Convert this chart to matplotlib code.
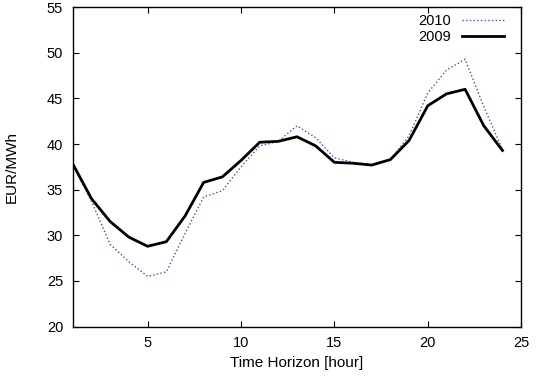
import numpy as np
import matplotlib
matplotlib.use('Agg')
import matplotlib.pyplot as plt

# Precio horario (EUR/MWh) por hora del día
hours = list(range(1, 25))
price_2010 = [37.8, 33.7, 29.0, 27.1, 25.5, 26.0, 30.2, 34.2, 34.9, 37.5, 39.8, 40.3,
              42.0, 40.7, 38.5, 38.0, 37.7, 38.3, 40.9, 45.6, 48.1, 49.3, 44.1, 39.4]
price_2009 = [37.8, 34.0, 31.5, 29.8, 28.8, 29.3, 32.1, 35.8, 36.4, 38.2, 40.2, 40.3,
              40.8, 39.8, 38.0, 37.9, 37.7, 38.3, 40.4, 44.2, 45.5, 46.0, 42.0, 39.3]

plt.rcParams['font.family'] = ['Liberation Sans', 'DejaVu Sans']
plt.rcParams['font.size'] = 10.5

fig = plt.figure(figsize=(5.44, 3.78), dpi=100)
ax = fig.add_axes([0.134, 0.136, 0.824, 0.845])

ax.plot(hours, price_2010, color='#3a55c0', linestyle=':', linewidth=1.0, label='2010')
ax.plot(hours, price_2009, color='black', linestyle='-', linewidth=2.0, label='2009')

ax.set_xlim(1, 25)
ax.set_ylim(20, 55)
ax.set_xticks([5, 10, 15, 20, 25])
ax.set_yticks(np.arange(20, 56, 5))
ax.tick_params(direction='in', top=True, right=True, length=4, width=0.8,
               colors='black', labelsize=10.5)
ax.tick_params(axis='y', pad=7)
ax.tick_params(axis='x', pad=7)
for s in ax.spines.values():
    s.set_linewidth(1.0)

ax.set_xlabel('Time Horizon [hour]', fontsize=11, labelpad=4)
ax.set_ylabel('EUR/MWh', fontsize=11, labelpad=20)

ax.legend(loc='upper right', bbox_to_anchor=(0.978, 1.0), frameon=False,
          markerfirst=False, handlelength=2.9, borderaxespad=0.1,
          labelspacing=0.1, handletextpad=0.7, fontsize=10.5)

plt.savefig('out.png', dpi=100)
